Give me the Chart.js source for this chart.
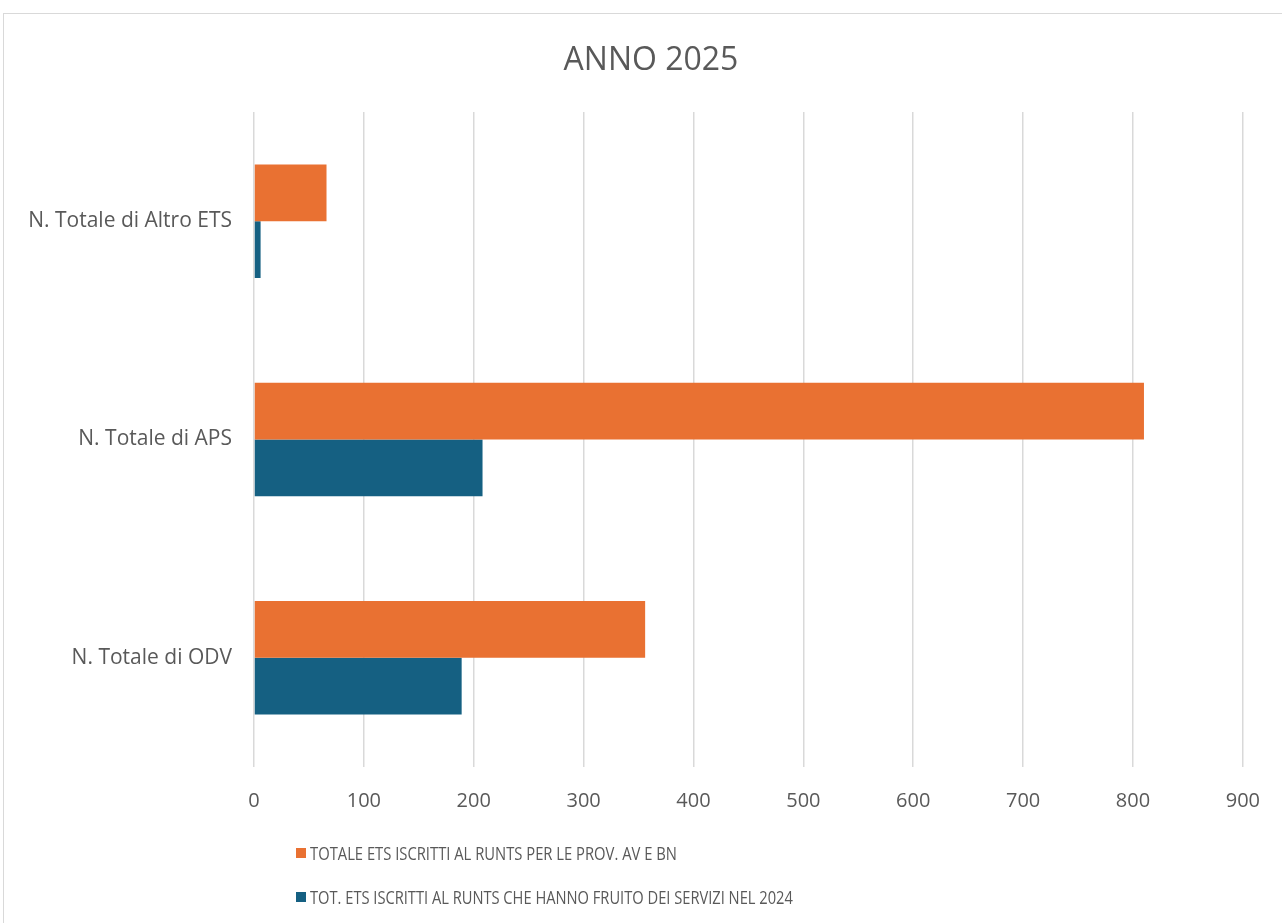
<!DOCTYPE html>
<html>
<head>
<meta charset="utf-8">
<script src="https://cdn.jsdelivr.net/npm/chart.js@4.4.1/dist/chart.umd.min.js"></script>
<style>
  html, body { margin: 0; padding: 0; background: #fff; overflow: hidden; width: 1282px; height: 923px; }
  #frame { position: absolute; left: 3px; top: 13px; width: 1320px; height: 940px; border: 1px solid #d9d9d9; box-sizing: border-box; }
  #wrap { position: absolute; left: 0; top: 0; width: 1282px; height: 923px; }
  #title { position: absolute; left: 0; top: 37px; width: 1302px; text-align: center; font-family: "Open Sans", sans-serif; font-size: 32px; line-height: 42px; color: #595959; }
  .leg { position: absolute; left: 296px; font-family: "Open Sans", sans-serif; font-size: 19px; color: #595959; white-space: nowrap; display: flex; align-items: center; transform-origin: left center; }
  .sw { width: 10px; height: 10px; display: inline-block; margin-right: 4px; }
</style>
</head>
<body>
<div id="frame"></div>
<div id="wrap"><canvas id="c" width="1282" height="923"></canvas></div>
<div id="title"></div>
<div class="leg" id="leg1" style="top:840px;"><span class="sw" style="background:#E97132"></span><span class="tx"></span></div>
<div class="leg" id="leg2" style="top:884px;"><span class="sw" style="background:#156082"></span><span class="tx"></span></div>
<script>
const chartTitle = "ANNO 2025";
const categories = ["N. Totale di Altro ETS", "N. Totale di APS", "N. Totale di ODV"];
const seriesNames = ["TOTALE ETS ISCRITTI AL RUNTS PER LE PROV. AV E BN", "TOT. ETS ISCRITTI AL RUNTS CHE HANNO FRUITO DEI SERVIZI NEL 2024"];
const totaleIscritti = [66, 810, 356];
const fruitoServizi = [6, 208, 189];
const xTicks = [0, 100, 200, 300, 400, 500, 600, 700, 800, 900];

const textColor = "#595959";
const ff = "'Open Sans', sans-serif";

document.getElementById("title").textContent = chartTitle;
document.querySelector("#leg1 .tx").textContent = seriesNames[0];
document.querySelector("#leg2 .tx").textContent = seriesNames[1];

new Chart(document.getElementById("c"), {
  type: "bar",
  data: {
    labels: categories,
    datasets: [
      { label: seriesNames[0], data: totaleIscritti, backgroundColor: "#E97132", barPercentage: 1, categoryPercentage: 0.52 },
      { label: seriesNames[1], data: fruitoServizi, backgroundColor: "#156082", barPercentage: 1, categoryPercentage: 0.52 }
    ]
  },
  options: {
    indexAxis: "y",
    responsive: false,
    animation: false,
    layout: { padding: { left: 10, right: 32, top: 112, bottom: 96 } },
    plugins: {
      legend: { display: false },
      tooltip: { enabled: false },
      title: { display: false }
    },
    scales: {
      x: {
        min: 0, max: 900,
        afterBuildTicks: (s) => { s.ticks = xTicks.map(v => ({ value: v })); },
        grid: { color: "#d9d9d9", lineWidth: 1.5, drawTicks: false },
        border: { display: false },
        ticks: { color: textColor, font: { family: ff, size: 20 }, padding: 22 },
        afterFit: (s) => { s.height = 60; }
      },
      y: {
        grid: { display: false, drawTicks: false },
        border: { display: false },
        ticks: { color: textColor, font: { family: ff, size: 21 }, padding: 22 },
        afterFit: (s) => { s.width = 244; }
      }
    }
  }
});

// fit legend text widths to the reference
const targets = { leg1: 367, leg2: 483 };
for (const id in targets) {
  const el = document.getElementById(id);
  const tx = el.querySelector(".tx");
  const w = tx.getBoundingClientRect().width;
  tx.style.display = "inline-block";
  tx.style.transformOrigin = "left center";
  tx.style.transform = "scaleX(" + (targets[id] / w).toFixed(3) + ")";
}
</script>
</body>
</html>
